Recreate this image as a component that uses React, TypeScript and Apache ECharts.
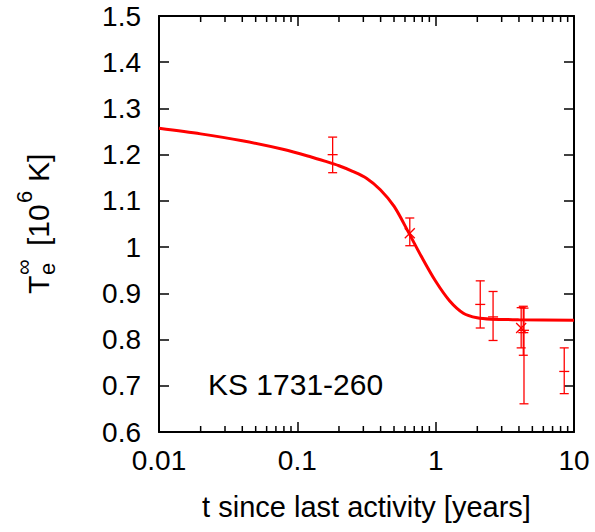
import React, { useEffect, useRef } from "react";
import * as echarts from "echarts";

// Observations: time since last activity [years], T_e^inf [10^6 K], error low, error high, marker
const obsT = [0.18, 0.65, 2.1, 2.6, 4.15, 4.3, 4.35, 8.5];
const obsY = [1.2, 1.03, 0.876, 0.849, 0.825, 0.815, 0.82, 0.731];
const obsLo = [1.161, 1.003, 0.825, 0.798, 0.782, 0.766, 0.661, 0.683];
const obsHi = [1.238, 1.063, 0.927, 0.904, 0.869, 0.872, 0.868, 0.782];
const obsMarker = ["+", "x", "+", "+", "x", "+", "+", "+"];

// Model cooling curve
const curveT = [0.01, 0.02, 0.04, 0.08, 0.126, 0.158, 0.2, 0.251, 0.316, 0.398, 0.501, 0.631, 0.794, 1, 1.259, 1.585, 1.995, 2.512, 3.981, 10];
const curveY = [1.257, 1.245, 1.230, 1.211, 1.195, 1.186, 1.176, 1.164, 1.149, 1.124, 1.088, 1.034, 0.978, 0.926, 0.884, 0.857, 0.847, 0.844, 0.843, 0.842];

// Minor tick positions on the log axis
const minorTicks = [
  0.02, 0.03, 0.04, 0.05, 0.06, 0.07, 0.08, 0.09,
  0.2, 0.3, 0.4, 0.5, 0.6, 0.7, 0.8, 0.9,
  2, 3, 4, 5, 6, 7, 8, 9,
];

const FONT = "Liberation Sans";
const RED = "#ff0000";

export default function App() {
  const ref = useRef<HTMLDivElement>(null);
  useEffect(() => {
    if (!ref.current) return;
    const chart = echarts.init(ref.current, null, { renderer: "svg" });
    const errData = obsT.map((t, i) => [t, obsY[i], obsLo[i], obsHi[i], obsMarker[i] === "x" ? 1 : 0]);
    const curveData = curveT.map((t, i) => [t, curveY[i]]);
    const minorData = minorTicks.map((t) => [t, 0.6]);

    const axisLabelStyle = { fontFamily: FONT, fontSize: 28, color: "#000" };
    chart.setOption({
      animation: false,
      backgroundColor: "#fff",
      grid: { left: 159, right: 21, top: 16, bottom: 100 },
      xAxis: [
        {
          type: "log",
          logBase: 10,
          min: 0.01,
          max: 10,
          position: "bottom",
          axisLine: { show: true, lineStyle: { color: "#000", width: 2 } },
          axisTick: { show: true, inside: true, length: 10, lineStyle: { color: "#000", width: 1.5 } },
          axisLabel: {
            ...axisLabelStyle,
            margin: 14,
            formatter: (v: number) => String(Number(v.toPrecision(6))),
          },
          splitLine: { show: false },
          name: "t since last activity [years]",
          nameLocation: "middle",
          nameGap: 60,
          nameTextStyle: { fontFamily: FONT, fontSize: 29, color: "#000" },
        },
        {
          type: "log",
          logBase: 10,
          min: 0.01,
          max: 10,
          position: "top",
          axisLine: { show: true, lineStyle: { color: "#000", width: 2 } },
          axisTick: { show: true, inside: true, length: 10, lineStyle: { color: "#000", width: 1.5 } },
          axisLabel: { show: false },
          splitLine: { show: false },
        },
      ],
      yAxis: [
        {
          type: "value",
          min: 0.6,
          max: 1.5,
          interval: 0.1,
          position: "left",
          axisLine: { show: true, lineStyle: { color: "#000", width: 2 } },
          axisTick: { show: true, inside: true, length: 10, lineStyle: { color: "#000", width: 1.5 } },
          axisLabel: {
            ...axisLabelStyle,
            margin: 18,
            formatter: (v: number) => String(Math.round(v * 10) / 10),
          },
          splitLine: { show: false },
        },
        {
          type: "value",
          min: 0.6,
          max: 1.5,
          interval: 0.1,
          position: "right",
          axisLine: { show: true, lineStyle: { color: "#000", width: 2 } },
          axisTick: { show: true, inside: true, length: 10, lineStyle: { color: "#000", width: 1.5 } },
          axisLabel: { show: false },
          splitLine: { show: false },
        },
      ],
      series: [
        {
          type: "custom",
          name: "minor",
          xAxisIndex: 0,
          yAxisIndex: 0,
          silent: true,
          clip: false,
          data: minorData,
          renderItem: (params: any, api: any) => {
            const x = api.coord([api.value(0), 0.6])[0];
            const yb = api.coord([api.value(0), 0.6])[1];
            const yt = api.coord([api.value(0), 1.5])[1];
            return {
              type: "group",
              children: [
                { type: "line", shape: { x1: x, y1: yb, x2: x, y2: yb - 6 }, style: { stroke: "#000", lineWidth: 1.5 } },
                { type: "line", shape: { x1: x, y1: yt, x2: x, y2: yt + 6 }, style: { stroke: "#000", lineWidth: 1.5 } },
              ],
            };
          },
        },
        {
          type: "line",
          name: "model",
          data: curveData,
          smooth: 0.3,
          symbol: "none",
          lineStyle: { color: RED, width: 3 },
          z: 3,
        },
        {
          type: "custom",
          name: "obs",
          data: errData,
          clip: false,
          z: 4,
          renderItem: (params: any, api: any) => {
            const t = api.value(0);
            const c = api.coord([t, api.value(1)]);
            const lo = api.coord([t, api.value(2)]);
            const hi = api.coord([t, api.value(3)]);
            const cap = 4.5;
            const st = { stroke: RED, lineWidth: 1.3 };
            const children: any[] = [
              { type: "line", shape: { x1: c[0], y1: lo[1], x2: c[0], y2: hi[1] }, style: st },
              { type: "line", shape: { x1: c[0] - cap, y1: lo[1], x2: c[0] + cap, y2: lo[1] }, style: st },
              { type: "line", shape: { x1: c[0] - cap, y1: hi[1], x2: c[0] + cap, y2: hi[1] }, style: st },
            ];
            const m = 5;
            if (api.value(4) === 1) {
              children.push(
                { type: "line", shape: { x1: c[0] - m, y1: c[1] - m, x2: c[0] + m, y2: c[1] + m }, style: st },
                { type: "line", shape: { x1: c[0] - m, y1: c[1] + m, x2: c[0] + m, y2: c[1] - m }, style: st }
              );
            } else {
              children.push({ type: "line", shape: { x1: c[0] - m, y1: c[1], x2: c[0] + m, y2: c[1] }, style: st });
            }
            return { type: "group", children };
          },
        },
      ],
      graphic: [
        {
          type: "text",
          left: 208,
          top: 369,
          style: { text: "KS 1731-260", fontFamily: FONT, fontSize: 30, fill: "#000" },
        },
        {
          type: "group",
          x: 38,
          y: 294,
          rotation: Math.PI / 2,
          children: [
            { type: "text", x: 0, y: 0, style: { text: "T", fontFamily: FONT, fontSize: 30, fill: "#000", textVerticalAlign: "middle" } },
            { type: "text", x: 19, y: 9, style: { text: "e", fontFamily: FONT, fontSize: 22, fill: "#000", textVerticalAlign: "middle" } },
            { type: "text", x: 19, y: -15, style: { text: "∞", fontFamily: FONT, fontSize: 22, fill: "#000", textVerticalAlign: "middle" } },
            { type: "text", x: 48, y: 0, style: { text: "[10", fontFamily: FONT, fontSize: 30, fill: "#000", textVerticalAlign: "middle" } },
            { type: "text", x: 91, y: -14, style: { text: "6", fontFamily: FONT, fontSize: 22, fill: "#000", textVerticalAlign: "middle" } },
            { type: "text", x: 112, y: 0, style: { text: "K]", fontFamily: FONT, fontSize: 30, fill: "#000", textVerticalAlign: "middle" } },
          ],
        },
      ],
    });
    return () => chart.dispose();
  }, []);
  return <div ref={ref} style={{ position: "fixed", left: 0, top: 0, width: 595, height: 532 }} />;
}
